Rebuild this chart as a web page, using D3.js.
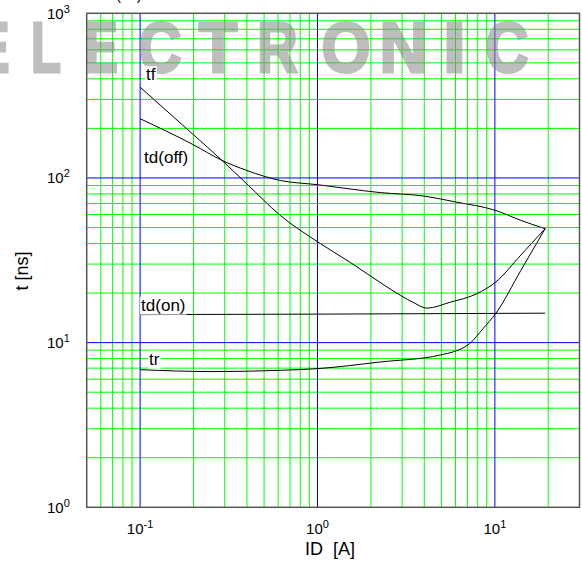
<!DOCTYPE html>
<html><head><meta charset="utf-8">
<script src="https://cdn.jsdelivr.net/npm/d3@7"></script>
<style>
html,body{margin:0;padding:0;background:#fff;}
svg{display:block;font-family:"Liberation Sans",Arial,sans-serif;}
.wm{font-family:"Liberation Sans",Arial,sans-serif;font-weight:bold;}
</style></head>
<body>
<svg id="c" width="582" height="569"></svg>
<script>
// ---- data ----
const xDomain = [0.05, 30];
const yDomain = [1, 1000];
const xDecades = [0.1, 1, 10];
const yDecades = [10, 100];
const xMinor = [0.06,0.07,0.08,0.09, 0.2,0.3,0.4,0.5,0.6,0.7,0.8,0.9, 2,3,4,5,6,7,8,9, 20];
const yMinor = [2,3,4,5,6,7,8,9, 20,30,40,50,60,70,80,90, 200,300,400,500,600,700,800,900];
const xTickVals = [0.1, 1, 10];
const xTickExp = ["-1", "0", "1"];
const yTickVals = [1, 10, 100, 1000];
const yTickExp = ["0", "1", "2", "3"];

const tfI   = [0.1, 0.2, 0.289, 0.4, 0.616, 1.0, 1.53, 2.0, 2.93, 3.55, 4.14, 5.6, 7.9, 10.1, 14, 19.2];
const tfT   = [356, 183, 128, 92, 59.3, 41, 30.7, 25.3, 19.4, 17.3, 16.2, 17.6, 19.8, 23.3, 34, 49.2];
const tdoffI = [0.1, 0.2, 0.289, 0.4, 0.616, 1.0, 2.26, 4.0, 6.0, 10.1, 14, 19.2];
const tdoffT = [229, 159, 128, 111, 96.6, 91, 81.5, 77.6, 71.5, 63.5, 55.3, 49.2];
const tdonI = [0.1, 1, 5, 19.2];
const tdonT = [14.8, 14.9, 15.0, 15.1];
const trI   = [0.1, 0.258, 0.616, 1.0, 2.26, 4.9, 7.2, 8.6, 10.1, 14, 19.2];
const trT   = [6.85, 6.67, 6.79, 6.95, 7.63, 8.4, 9.86, 12.2, 15, 27.4, 49.2];

const curveLabels = [
  {text:"tf", I:0.1, T:356},
  {text:"td(off)", I:0.1, T:229},
  {text:"td(on)", I:0.1, T:14.8},
  {text:"tr", I:0.1, T:6.85}
];
const labelOffsets = [[6,-7],[4,44],[1,-4],[9,-5]];

const watermarkLetters = ["E","L","E","C","T","R","O","N","I","C"];
const watermarkCenters = [-7, 46, 101.5, 160, 218, 277.5, 346, 403.5, 454.5, 507];
const watermarkScaleX = [0.7, 0.7, 0.7, 0.85, 0.9, 0.8, 0.9, 0.95, 1.2, 0.85];

// ---- layout ----
const L = 86.7, R = 579.5, T = 13.3, B = 507.3;
const svg = d3.select("#c");
const x = d3.scaleLog().domain(xDomain).range([L, R]);
const y = d3.scaleLog().domain(yDomain).range([B, T]);

const grid = svg.append("g");
xMinor.forEach(v => grid.append("line").attr("x1", x(v)).attr("x2", x(v)).attr("y1", T).attr("y2", B)
  .attr("stroke", "#00ff00").attr("stroke-width", 1));
yMinor.forEach(v => grid.append("line").attr("y1", y(v)).attr("y2", y(v)).attr("x1", L).attr("x2", R)
  .attr("stroke", "#00ff00").attr("stroke-width", 1));
xDecades.forEach(v => grid.append("line").attr("x1", x(v)).attr("x2", x(v)).attr("y1", T).attr("y2", B)
  .attr("stroke", v === 1 ? "#0000c0" : "#0000ff").attr("stroke-width", 1));
yDecades.forEach(v => grid.append("line").attr("y1", y(v)).attr("y2", y(v)).attr("x1", L).attr("x2", R)
  .attr("stroke", "#0000ff").attr("stroke-width", 1));

// watermark
const wm = svg.append("g").attr("opacity", 0.55);
watermarkLetters.forEach((ch, i) => {
  wm.append("text").attr("class", "wm").attr("text-anchor", "middle")
    .attr("font-size", 70).attr("fill", "#8a8a8a").attr("stroke", "#8a8a8a").attr("stroke-width", 3)
    .attr("stroke-linejoin", "miter")
    .attr("transform", `translate(${watermarkCenters[i]},72) scale(${watermarkScaleX[i]},1)`).text(ch);
});

// frame
svg.append("rect").attr("x", L).attr("y", T).attr("width", R - L).attr("height", B - T)
  .attr("fill", "none").attr("stroke", "#555").attr("stroke-width", 1.5);

// curve labels with white boxes
const lblG = svg.append("g");
curveLabels.forEach((d, i) => {
  const t = lblG.append("text").attr("x", x(d.I) + labelOffsets[i][0]).attr("y", y(d.T) + labelOffsets[i][1])
    .attr("font-size", 17).attr("fill", "#000").text(d.text);
  const bb = t.node().getBBox();
  lblG.insert("rect", "text").attr("x", bb.x - 1).attr("y", bb.y + 1).attr("width", bb.width + 2).attr("height", bb.height - 1)
    .attr("fill", "#fff");
});

// curves
const line = d3.line().x(d => x(d[0])).y(d => y(d[1])).curve(d3.curveMonotoneX);
[[tfI, tfT], [tdoffI, tdoffT], [tdonI, tdonT], [trI, trT]].forEach(([I, Tt]) => {
  svg.append("path").attr("d", line(I.map((v, k) => [v, Tt[k]])))
    .attr("fill", "none").attr("stroke", "#000").attr("stroke-width", 1);
});
svg.append(() => lblG.node()); // labels on top

// tick labels
xTickVals.forEach((v, i) => {
  const t = svg.append("text").attr("x", x(v)).attr("y", 534).attr("text-anchor", "middle")
    .attr("font-size", 15).attr("fill", "#000");
  t.append("tspan").text("10");
  t.append("tspan").attr("font-size", 11).attr("dy", -6).text(xTickExp[i]);
});
yTickVals.forEach((v, i) => {
  const t = svg.append("text").attr("x", 47).attr("y", y(v) + 5.5)
    .attr("font-size", 15).attr("fill", "#000");
  t.append("tspan").text("10");
  t.append("tspan").attr("font-size", 11).attr("dy", -6).text(yTickExp[i]);
});

// axis titles
svg.append("text").attr("x", 330).attr("y", 555).attr("text-anchor", "middle")
  .attr("font-size", 18).attr("fill", "#000").attr("xml:space", "preserve").text("ID  [A]");
svg.append("text").attr("transform", "translate(28,271) rotate(-90)").attr("text-anchor", "middle")
  .attr("font-size", 18).attr("fill", "#000").text("t [ns]");
// cut-off top text
svg.append("text").attr("x", 116).attr("y", -0.5).attr("font-size", 15).attr("fill", "#000").text("(ns)");
</script>
</body></html>
